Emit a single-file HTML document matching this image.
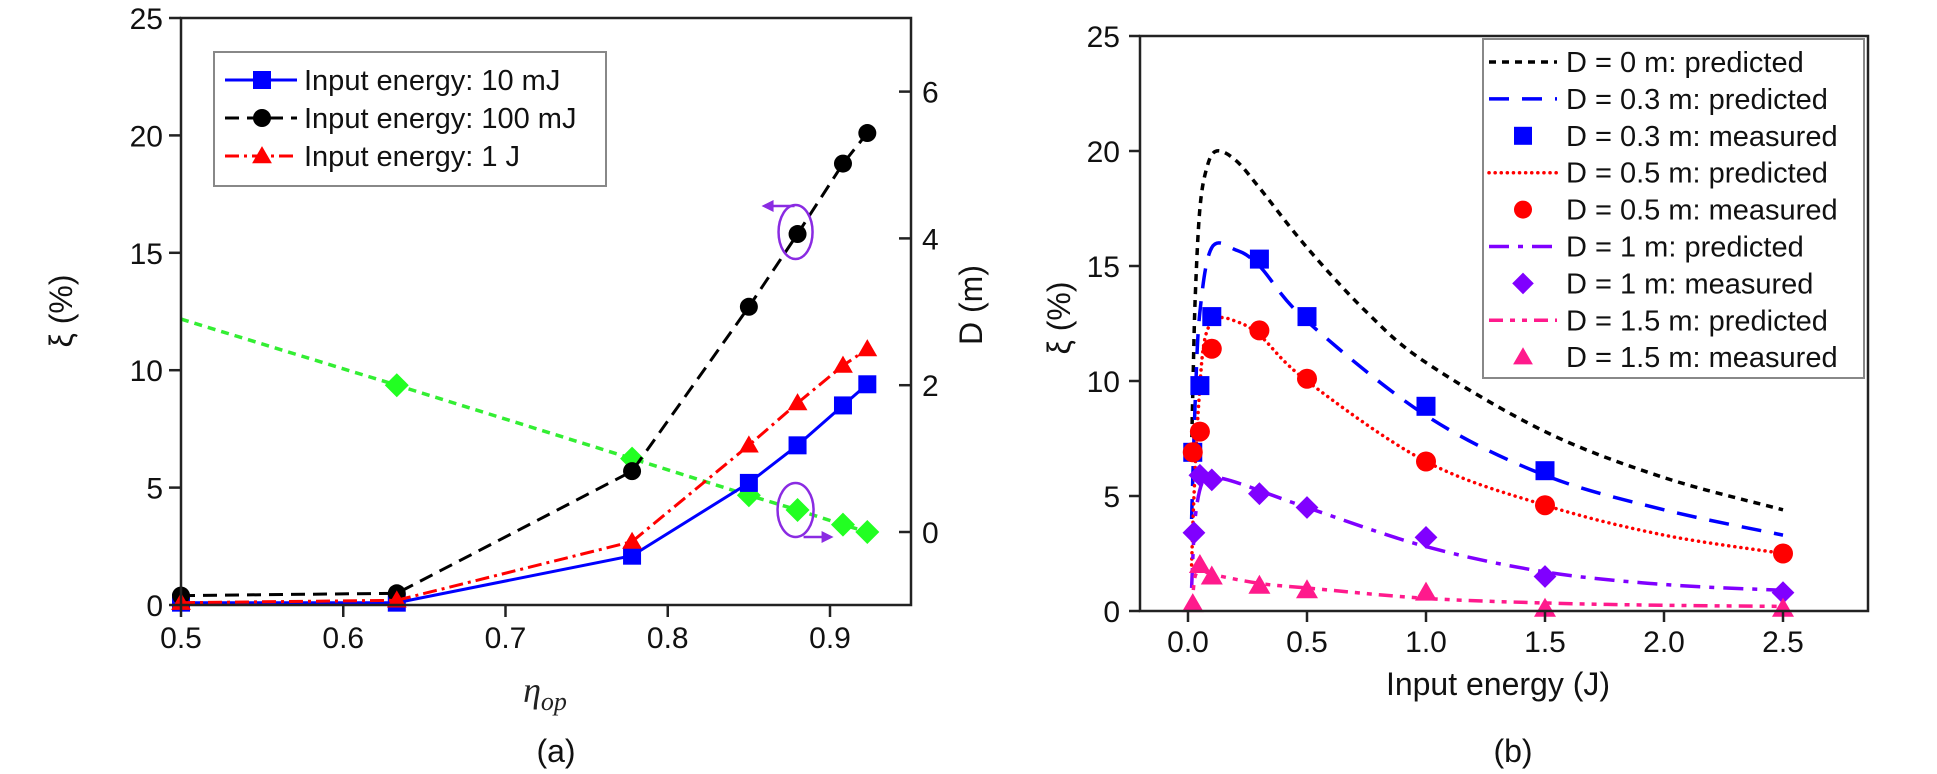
<!DOCTYPE html>
<html><head><meta charset="utf-8">
<style>
html,body{margin:0;padding:0;background:#fff;}
svg{display:block;font-family:"Liberation Sans",Arial,sans-serif;}
</style></head>
<body>
<svg id="fig" width="1937" height="774" viewBox="0 0 1937 774" xmlns="http://www.w3.org/2000/svg"></svg>
<script>
// ---------- Panel (a) data ----------
const aEta = [0.5, 0.633, 0.778, 0.85, 0.88, 0.908, 0.923];
const a10mJ = [0.1, 0.1, 2.1, 5.2, 6.8, 8.5, 9.4];
const a100mJ = [0.4, 0.5, 5.7, 12.7, 15.8, 18.8, 20.1];
const a1J = [0.1, 0.2, 2.7, 6.8, 8.6, 10.2, 10.9];
const aDEta = [0.5, 0.633, 0.778, 0.85, 0.88, 0.908, 0.923];
const aD = [2.9, 2.0, 1.0, 0.5, 0.3, 0.1, 0.0];
const aXTicks = [0.5, 0.6, 0.7, 0.8, 0.9];
const aYTicks = [0, 5, 10, 15, 20, 25];
const aDTicks = [0, 2, 4, 6];
// ---------- Panel (b) data ----------
const bXTicks = [0.0, 0.5, 1.0, 1.5, 2.0, 2.5];
const bYTicks = [0, 5, 10, 15, 20, 25];
const pD0x = [0.015, 0.02, 0.03, 0.05, 0.08, 0.12, 0.2, 0.3, 0.5, 0.75, 1.0, 1.5, 2.0, 2.5];
const pD0y = [7, 9.5, 13.5, 17.5, 19.3, 20.0, 19.6, 18.4, 15.8, 13.0, 10.8, 7.8, 5.8, 4.4];
const pD03x = [0.015, 0.03, 0.05, 0.1, 0.2, 0.3, 0.5, 1.0, 1.5, 2.0, 2.5];
const pD03y = [4, 9, 13, 15.8, 15.7, 15.0, 12.6, 8.5, 5.9, 4.4, 3.3];
const pD05x = [0.015, 0.025, 0.045, 0.07, 0.12, 0.2, 0.3, 0.5, 1.0, 1.5, 2.0, 2.5];
const pD05y = [2, 5, 9, 11.8, 12.7, 12.6, 12.0, 10.0, 6.5, 4.6, 3.3, 2.5];
const pD1x = [0.015, 0.03, 0.06, 0.1, 0.2, 0.5, 1.0, 1.5, 2.0, 2.5];
const pD1y = [1, 4, 5.6, 5.8, 5.6, 4.5, 2.8, 1.7, 1.15, 0.9];
const pD15x = [0.015, 0.03, 0.06, 0.1, 0.3, 0.5, 1.0, 1.5, 2.0, 2.5];
const pD15y = [0, 1.5, 1.8, 1.6, 1.2, 1.0, 0.55, 0.35, 0.25, 0.2];
const mD03x = [0.02, 0.05, 0.1, 0.3, 0.5, 1.0, 1.5];
const mD03y = [6.9, 9.8, 12.8, 15.3, 12.8, 8.9, 6.1];
const mD05x = [0.02, 0.05, 0.1, 0.3, 0.5, 1.0, 1.5, 2.5];
const mD05y = [6.9, 7.8, 11.4, 12.2, 10.1, 6.5, 4.6, 2.5];
const mD1x = [0.025, 0.05, 0.1, 0.3, 0.5, 1.0, 1.5, 2.5];
const mD1y = [3.4, 5.9, 5.7, 5.1, 4.5, 3.2, 1.5, 0.8];
const mD15x = [0.02, 0.05, 0.1, 0.3, 0.5, 1.0, 1.5, 2.5];
const mD15y = [0.3, 2.0, 1.5, 1.1, 0.9, 0.8, 0.1, 0.1];

const NS = "http://www.w3.org/2000/svg";
const svg = document.getElementById('fig');
function el(tag, attrs, parent) {
  const e = document.createElementNS(NS, tag);
  for (const k in attrs) e.setAttribute(k, attrs[k]);
  (parent || svg).appendChild(e);
  return e;
}
function txt(s, attrs, parent) { const t = el('text', attrs, parent); t.textContent = s; return t; }

const axL = 181, axR = 911, ayT = 18, ayB = 605;
const ax = v => axL + (v - 0.5) * 1622.5;
const ay = v => ayB - v * 23.48;
const aDy = v => 532 - v * 73.4;
const bxL = 1140, bxR = 1868, byT = 36, byB = 611;
const bx = v => 1188 + v * 238;
const by = v => byB - v * 23.0;

function polyPath(xs, ys, fx, fy) {
  return xs.map((x, i) => (i ? 'L' : 'M') + fx(x).toFixed(1) + ' ' + fy(ys[i]).toFixed(1)).join(' ');
}
function smoothPath(xs, ys, fx, fy) {
  const p = xs.map((x, i) => [fx(x), fy(ys[i])]);
  let d = 'M' + p[0][0].toFixed(1) + ' ' + p[0][1].toFixed(1);
  for (let i = 0; i < p.length - 1; i++) {
    const p0 = p[Math.max(0, i - 1)], p1 = p[i], p2 = p[i + 1], p3 = p[Math.min(p.length - 1, i + 2)];
    const c1 = [p1[0] + (p2[0] - p0[0]) / 6, p1[1] + (p2[1] - p0[1]) / 6];
    const c2 = [p2[0] - (p3[0] - p1[0]) / 6, p2[1] - (p3[1] - p1[1]) / 6];
    d += ' C' + c1.map(v => v.toFixed(1)).join(' ') + ' ' + c2.map(v => v.toFixed(1)).join(' ') + ' ' + p2[0].toFixed(1) + ' ' + p2[1].toFixed(1);
  }
  return d;
}
function marker(type, cx, cy, size, color, parent) {
  let m;
  const h = size / 2;
  if (type === 'square') m = el('rect', {x: cx - h, y: cy - h, width: size, height: size, fill: color}, parent);
  else if (type === 'circle') m = el('circle', {cx: cx, cy: cy, r: h, fill: color}, parent);
  else if (type === 'triangle') m = el('polygon', {points: `${cx},${cy - h * 1.1} ${cx - h * 1.1},${cy + h * 0.8} ${cx + h * 1.1},${cy + h * 0.8}`, fill: color}, parent);
  else m = el('polygon', {points: `${cx},${cy - h * 1.2} ${cx + h * 1.2},${cy} ${cx},${cy + h * 1.2} ${cx - h * 1.2},${cy}`, fill: color}, parent);
  return m;
}

// ================= PANEL A =================
const gA = el('g', {});



const seriesA = [
  {name: 'series-10mj', xs: aEta, ys: a10mJ, color: '#0000ff', dash: '', m: 'square', fy: ay},
  {name: 'series-100mj', xs: aEta, ys: a100mJ, color: '#000000', dash: '14 8', m: 'circle', fy: ay},
  {name: 'series-1j', xs: aEta, ys: a1J, color: '#ff0000', dash: '14 5 3 5', m: 'triangle', fy: ay},
];
const gG = el('g', {}, gA);


el('path', {d: polyPath(aDEta, aD, ax, aDy), fill: 'none', stroke: '#33ee33', 'stroke-width': 3.5, 'stroke-dasharray': '8 6'}, gG);
aDEta.forEach((x, i) => {
  if (i === 0) return;
  const m = marker('diamond', ax(x), aDy(aD[i]), 20, '#22ff22', gG);
  
  
});
seriesA.forEach(s => {
  const g = el('g', {}, gA);
  
  
  el('path', {d: polyPath(s.xs, s.ys, ax, s.fy), fill: 'none', stroke: s.color, 'stroke-width': 3, 'stroke-dasharray': s.dash}, g);
  s.xs.forEach((x, i) => {
    const m = marker(s.m, ax(x), s.fy(s.ys[i]), 18, s.color, g);
    
    
  });
});
const ann = el('g', {stroke: '#8a2be2', fill: 'none', 'stroke-width': 2.5}, gA);


el('ellipse', {cx: ax(0.88) - 2, cy: ay(15.8) - 2, rx: 17, ry: 27}, ann);
el('path', {d: `M${ax(0.88) - 3} ${ay(15.8) - 28} L${ax(0.88) - 30} ${ay(15.8) - 28}`}, ann);
el('polygon', {points: `${ax(0.88) - 36},${ay(15.8) - 28} ${ax(0.88) - 24},${ay(15.8) - 34} ${ax(0.88) - 24},${ay(15.8) - 22}`, fill: '#8a2be2', stroke: 'none'}, ann);
el('ellipse', {cx: ax(0.88) - 2, cy: aDy(0.3), rx: 18, ry: 27}, ann);
el('path', {d: `M${ax(0.88) + 6} ${aDy(0.3) + 27} L${ax(0.88) + 30} ${aDy(0.3) + 27}`}, ann);
el('polygon', {points: `${ax(0.88) + 36},${aDy(0.3) + 27} ${ax(0.88) + 24},${aDy(0.3) + 21} ${ax(0.88) + 24},${aDy(0.3) + 33}`, fill: '#8a2be2', stroke: 'none'}, ann);

const frA = el('g', {stroke: '#222', 'stroke-width': 2.5, fill: 'none'}, gA);


el('rect', {x: axL, y: ayT, width: axR - axL, height: ayB - ayT}, frA);
aXTicks.forEach(t => {
  el('line', {x1: ax(t), x2: ax(t), y1: ayB, y2: ayB + 12}, frA);
  const l = txt(t.toFixed(1), {x: ax(t), y: 648, 'font-size': 30, 'text-anchor': 'middle', fill: '#111'}, gA);
  
  
});
aYTicks.forEach(t => {
  el('line', {x1: axL - 12, x2: axL, y1: ay(t), y2: ay(t)}, frA);
  const l = txt(String(t), {x: 163, y: ay(t) + 11, 'font-size': 30, 'text-anchor': 'end', fill: '#111'}, gA);
  
  
});
aDTicks.forEach(t => {
  el('line', {x1: axR - 12, x2: axR, y1: aDy(t), y2: aDy(t)}, frA);
  const l = txt(String(t), {x: 922, y: aDy(t) + 11, 'font-size': 30, 'text-anchor': 'start', fill: '#111'}, gA);
  
  
});
let t1 = txt('ξ (%)', {x: 0, y: 0, 'font-size': 32, 'text-anchor': 'middle', fill: '#111', transform: 'translate(72 311) rotate(-90)'}, gA);


t1 = txt('D (m)', {x: 0, y: 0, 'font-size': 32, 'text-anchor': 'middle', fill: '#111', transform: 'translate(982 305) rotate(-90)'}, gA);


const xt = el('text', {x: 545, y: 702, 'font-size': 36, 'text-anchor': 'middle', fill: '#222', 'font-family': '"Liberation Serif",serif', 'font-style': 'italic'}, gA);


xt.innerHTML = 'η<tspan font-size="26" dy="8">op</tspan>';
t1 = txt('(a)', {x: 556, y: 762, 'font-size': 32, 'text-anchor': 'middle', fill: '#111'}, gA);



const lgA = el('g', {}, gA);


el('rect', {x: 214, y: 52, width: 392, height: 134, fill: '#fff', stroke: '#888', 'stroke-width': 2}, lgA);
const legA = [['Input energy: 10 mJ', '#0000ff', '', 'square'], ['Input energy: 100 mJ', '#000', '14 8', 'circle'], ['Input energy: 1 J', '#ff0000', '14 5 3 5', 'triangle']];
legA.forEach((e, i) => {
  const y = 80 + i * 38;
  const g = el('g', {}, lgA);
  
  
  el('line', {x1: 225, x2: 297, y1: y, y2: y, stroke: e[1], 'stroke-width': 3, 'stroke-dasharray': e[2]}, g);
  marker(e[3], 262, y, 18, e[1], g);
  txt(e[0], {x: 304, y: y + 10, 'font-size': 29, fill: '#111'}, g);
});

// ================= PANEL B =================
const gB = el('g', {});


const predB = [
  {name: 'predicted-d0', xs: pD0x, ys: pD0y, color: '#000', dash: '7 6', w: 3.5, cap: 'butt'},
  {name: 'predicted-d0.3', xs: pD03x, ys: pD03y, color: '#0000ff', dash: '20 13', w: 3.5, cap: 'butt'},
  {name: 'predicted-d0.5', xs: pD05x, ys: pD05y, color: '#ff0000', dash: '0.1 6', w: 3.5, cap: 'round'},
  {name: 'predicted-d1', xs: pD1x, ys: pD1y, color: '#8000ff', dash: '20 9 5 9', w: 3.5, cap: 'butt'},
  {name: 'predicted-d1.5', xs: pD15x, ys: pD15y, color: '#ff1a8c', dash: '14 7 5 7 5 7', w: 3.5, cap: 'butt'},
];
predB.forEach(s => {
  const p = el('path', {d: smoothPath(s.xs, s.ys, bx, by), fill: 'none', stroke: s.color, 'stroke-width': s.w, 'stroke-dasharray': s.dash, 'stroke-linecap': s.cap}, gB);
  
  
});
const measB = [
  {name: 'measured-d0.3', xs: mD03x, ys: mD03y, color: '#0000ff', m: 'square', s: 19},
  {name: 'measured-d0.5', xs: mD05x, ys: mD05y, color: '#ff0000', m: 'circle', s: 20},
  {name: 'measured-d1', xs: mD1x, ys: mD1y, color: '#8000ff', m: 'diamond', s: 19},
  {name: 'measured-d1.5', xs: mD15x, ys: mD15y, color: '#ff1a8c', m: 'triangle', s: 20},
];
measB.forEach(s => {
  const g = el('g', {}, gB);
  
  
  s.xs.forEach((x, i) => {
    const m = marker(s.m, bx(x), by(s.ys[i]), s.s, s.color, g);
    
    
  });
});
const frB = el('g', {stroke: '#222', 'stroke-width': 2.5, fill: 'none'}, gB);


el('rect', {x: bxL, y: byT, width: bxR - bxL, height: byB - byT}, frB);
bXTicks.forEach(t => {
  el('line', {x1: bx(t), x2: bx(t), y1: byB, y2: byB + 11}, frB);
  const l = txt(t.toFixed(1), {x: bx(t), y: 652, 'font-size': 30, 'text-anchor': 'middle', fill: '#111'}, gB);
  
  
});
bYTicks.forEach(t => {
  el('line', {x1: bxL - 11, x2: bxL, y1: by(t), y2: by(t)}, frB);
  const l = txt(String(t), {x: 1120, y: by(t) + 11, 'font-size': 30, 'text-anchor': 'end', fill: '#111'}, gB);
  
  
});
t1 = txt('ξ (%)', {x: 0, y: 0, 'font-size': 32, 'text-anchor': 'middle', fill: '#111', transform: 'translate(1070 318) rotate(-90)'}, gB);


t1 = txt('Input energy (J)', {x: 1498, y: 695, 'font-size': 32, 'text-anchor': 'middle', fill: '#111'}, gB);


t1 = txt('(b)', {x: 1513, y: 762, 'font-size': 32, 'text-anchor': 'middle', fill: '#111'}, gB);



const lgB = el('g', {}, gB);


el('rect', {x: 1483, y: 39, width: 381, height: 339, fill: '#fff', stroke: '#888', 'stroke-width': 2}, lgB);
const legB = [
  ['D = 0 m: predicted', '#000', '7 6', null, 'butt'],
  ['D = 0.3 m: predicted', '#0000ff', '20 13', null, 'butt'],
  ['D = 0.3 m: measured', '#0000ff', null, 'square', ''],
  ['D = 0.5 m: predicted', '#ff0000', '0.1 6', null, 'round'],
  ['D = 0.5 m: measured', '#ff0000', null, 'circle', ''],
  ['D = 1 m: predicted', '#8000ff', '20 9 5 9', null, 'butt'],
  ['D = 1 m: measured', '#8000ff', null, 'diamond', ''],
  ['D = 1.5 m: predicted', '#ff1a8c', '14 7 5 7 5 7', null, 'butt'],
  ['D = 1.5 m: measured', '#ff1a8c', null, 'triangle', ''],
];
legB.forEach((e, i) => {
  const y = 62 + i * 36.9;
  const g = el('g', {}, lgB);
  
  
  if (e[2]) el('line', {x1: 1489, x2: 1557, y1: y, y2: y, stroke: e[1], 'stroke-width': 3.5, 'stroke-dasharray': e[2], 'stroke-linecap': e[4]}, g);
  if (e[3]) marker(e[3], 1523, y, 18, e[1], g);
  txt(e[0], {x: 1566, y: y + 10, 'font-size': 29, fill: '#111'}, g);
});
</script>
</body></html>
